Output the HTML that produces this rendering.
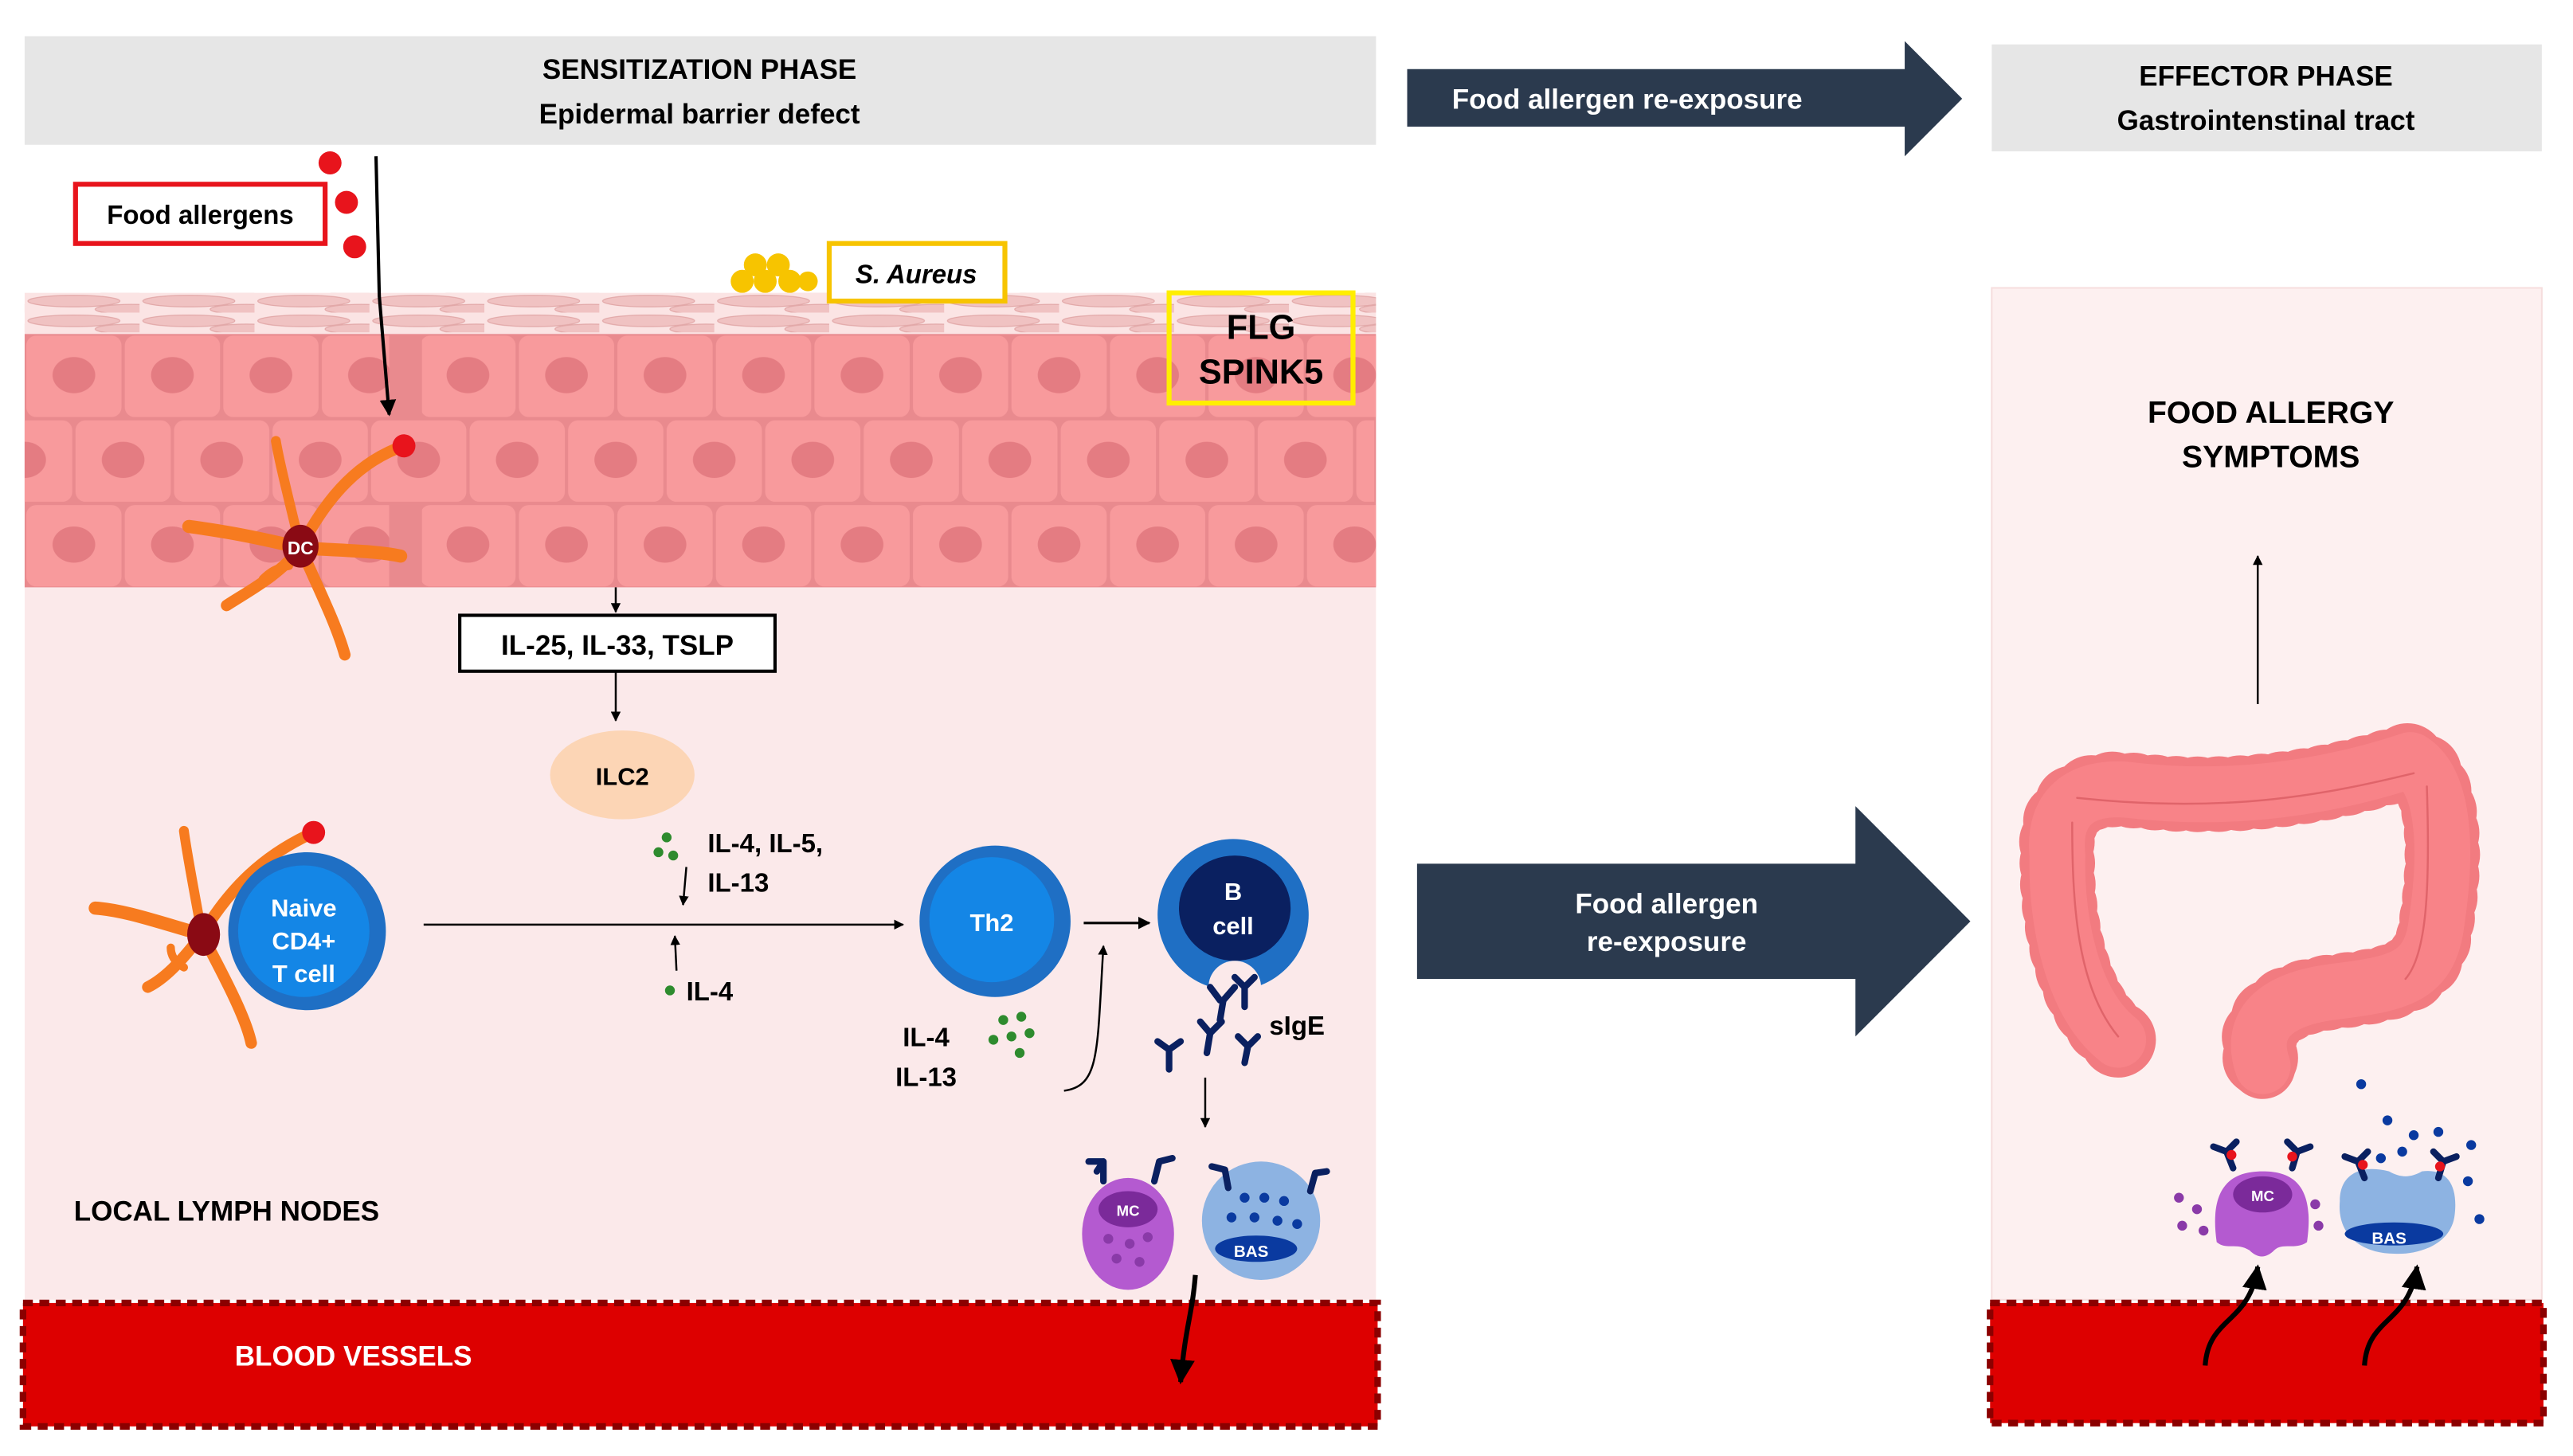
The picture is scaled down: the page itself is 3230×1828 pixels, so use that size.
<!DOCTYPE html>
<html><head><meta charset="utf-8"><style>
html,body{margin:0;padding:0;background:#fff;}
svg{display:block;}
text{font-family:"Liberation Sans",Arial,sans-serif;font-weight:bold;}
</style></head><body>
<svg width="3230" height="1828" viewBox="0 0 1567 885" preserveAspectRatio="none" xmlns="http://www.w3.org/2000/svg">
<defs>
<pattern id="cellA" x="15" y="203" width="60" height="51.5" patternUnits="userSpaceOnUse">
<rect x="1" y="1" width="58" height="49.5" rx="6" fill="#f89a9c"/>
<ellipse cx="30" cy="25" rx="13" ry="11" fill="#e47c82"/>
</pattern>
<pattern id="cellB" x="-15" y="254.5" width="60" height="51.5" patternUnits="userSpaceOnUse">
<rect x="1" y="1" width="58" height="49.5" rx="6" fill="#f89a9c"/>
<ellipse cx="30" cy="25" rx="13" ry="11" fill="#e47c82"/>
</pattern>
<pattern id="cellC" x="15" y="306" width="60" height="51.5" patternUnits="userSpaceOnUse">
<rect x="1" y="1" width="58" height="49.5" rx="6" fill="#f89a9c"/>
<ellipse cx="30" cy="25" rx="13" ry="11" fill="#e47c82"/>
</pattern>
<pattern id="corn" x="15" y="178" width="70" height="12" patternUnits="userSpaceOnUse">
<ellipse cx="30" cy="5" rx="28" ry="3.5" fill="#f0c2c2" stroke="#e2a8a8" stroke-width="0.6"/>
<ellipse cx="65" cy="10" rx="22" ry="3" fill="#f0c2c2" stroke="#e2a8a8" stroke-width="0.6"/>
</pattern>
<marker id="ah" viewBox="0 0 10 10" refX="9" refY="5" markerWidth="5" markerHeight="5" orient="auto"><path d="M0,0L10,5L0,10z" fill="#000"/></marker>
</defs>

<!-- headers -->
<rect x="15" y="22" width="823" height="66" fill="#e6e6e6"/>
<text x="426" y="48" font-size="17" text-anchor="middle">SENSITIZATION PHASE</text>
<text x="426" y="75" font-size="17" text-anchor="middle">Epidermal barrier defect</text>
<polygon points="857,42 1160,42 1160,25 1195,60 1160,95 1160,77 857,77" fill="#2b3a4e"/>
<text x="991" y="66" font-size="17" fill="#fff" text-anchor="middle">Food allergen re-exposure</text>
<rect x="1213" y="27" width="335" height="65" fill="#e6e6e6"/>
<text x="1380" y="52" font-size="17" text-anchor="middle">EFFECTOR PHASE</text>
<text x="1380" y="79" font-size="17" text-anchor="middle">Gastrointenstinal tract</text>

<!-- left panel -->
<rect x="15" y="357" width="823" height="433" fill="#fbe9ea"/>
<rect x="15" y="178" width="823" height="25" fill="#fbe4e4"/>
<rect x="15" y="178" width="823" height="25" fill="url(#corn)"/>
<rect x="15" y="203" width="823" height="154" fill="#e98a8e"/>
<rect x="15" y="203" width="222" height="51.5" fill="url(#cellA)"/>
<rect x="257" y="203" width="581" height="51.5" fill="url(#cellA)"/>
<rect x="15" y="254.5" width="822" height="51.5" fill="url(#cellB)"/>
<rect x="15" y="306" width="222" height="51" fill="url(#cellC)"/>
<rect x="257" y="306" width="581" height="51" fill="url(#cellC)"/>

<!-- food allergens -->
<rect x="46" y="112" width="152" height="36" fill="#fff" stroke="#e8141c" stroke-width="3"/>
<text x="122" y="136" font-size="16" text-anchor="middle">Food allergens</text>
<circle cx="201" cy="99" r="7" fill="#e8141c"/>
<circle cx="211" cy="123" r="7" fill="#e8141c"/>
<circle cx="216" cy="150" r="7" fill="#e8141c"/>
<path d="M229,95 L231,180 L237,252" stroke="#000" stroke-width="2" fill="none" marker-end="url(#ah)"/>

<!-- S aureus -->
<g fill="#f7c400"><circle cx="460" cy="161" r="7"/><circle cx="474" cy="161" r="7"/><circle cx="452" cy="171" r="7"/><circle cx="466" cy="171" r="7"/><circle cx="481" cy="171" r="7"/><circle cx="492" cy="171" r="6"/></g>
<rect x="505" y="148" width="107" height="35" fill="#fff" stroke="#f7c400" stroke-width="3"/>
<text x="558" y="172" font-size="16" font-style="italic" text-anchor="middle">S. Aureus</text>

<!-- FLG -->
<rect x="712" y="178" width="112" height="67" fill="none" stroke="#ffee00" stroke-width="3"/>
<text x="768" y="206" font-size="21" text-anchor="middle">FLG</text>
<text x="768" y="233" font-size="21" text-anchor="middle">SPINK5</text>

<!-- DC in skin -->
<g stroke="#f77b1f" stroke-linecap="round" fill="none">
<path d="M183,333 C200,300 220,280 246,271" stroke-width="7"/>
<path d="M183,333 C175,300 170,280 168,268" stroke-width="6"/>
<path d="M183,333 C150,325 130,322 115,320" stroke-width="8"/>
<path d="M183,333 C215,335 230,335 244,338" stroke-width="8"/>
<path d="M183,333 C170,350 150,360 138,368" stroke-width="7"/>
<path d="M183,333 C195,360 205,380 210,398" stroke-width="7"/>
<path d="M176,344 C168,345 164,348 160,352" stroke-width="5"/>
</g>
<ellipse cx="183" cy="332" rx="11" ry="13" fill="#8a0a14"/>
<text x="183" y="337" font-size="11" fill="#fff" text-anchor="middle">DC</text>
<circle cx="246" cy="271" r="7" fill="#e8141c"/>

<!-- IL-25 -->
<line x1="375" y1="357" x2="375" y2="372" stroke="#000" stroke-width="1.2" marker-end="url(#ah)"/>
<rect x="280" y="374" width="192" height="34" fill="#fff" stroke="#000" stroke-width="2"/>
<text x="376" y="398" font-size="17" text-anchor="middle">IL-25, IL-33, TSLP</text>
<line x1="375" y1="408" x2="375" y2="438" stroke="#000" stroke-width="1.2" marker-end="url(#ah)"/>
<ellipse cx="379" cy="471" rx="44" ry="27" fill="#fcd5b5"/>
<text x="379" y="477" font-size="15" text-anchor="middle">ILC2</text>

<g fill="#2e8b2e"><circle cx="406" cy="509" r="3"/><circle cx="401" cy="518" r="3"/><circle cx="410" cy="520" r="3"/><circle cx="408" cy="602" r="3"/><circle cx="611" cy="620" r="3"/><circle cx="622" cy="618" r="3"/><circle cx="605" cy="632" r="3"/><circle cx="616" cy="630" r="3"/><circle cx="627" cy="628" r="3"/><circle cx="621" cy="640" r="3"/></g>
<text x="431" y="518" font-size="16">IL-4, IL-5,</text>
<text x="431" y="542" font-size="16">IL-13</text>
<path d="M418,527 L416,550" stroke="#000" stroke-width="1.2" fill="none" marker-end="url(#ah)"/>
<path d="M412,590 L411,569" stroke="#000" stroke-width="1.2" fill="none" marker-end="url(#ah)"/>
<text x="418" y="608" font-size="16">IL-4</text>

<!-- DC + naive T -->
<g stroke="#f77b1f" stroke-linecap="round" fill="none">
<path d="M123,568 C140,540 160,520 191,506" stroke-width="7"/>
<path d="M123,568 C118,540 114,520 112,505" stroke-width="6"/>
<path d="M123,568 C95,560 75,553 58,552" stroke-width="8"/>
<path d="M123,568 C140,600 150,620 153,634" stroke-width="7"/>
<path d="M123,568 C110,585 100,595 90,600" stroke-width="7"/>
<path d="M112,588 C106,585 104,580 104,576" stroke-width="5"/>
</g>
<ellipse cx="124" cy="568" rx="10" ry="13" fill="#8a0a14"/>
<circle cx="191" cy="506" r="7" fill="#e8141c"/>
<circle cx="187" cy="566" r="48" fill="#1f6fc4"/>
<circle cx="185" cy="566" r="40" fill="#1486e6"/>
<text x="185" y="557" font-size="15" fill="#fff" text-anchor="middle">Naive</text>
<text x="185" y="577" font-size="15" fill="#fff" text-anchor="middle">CD4+</text>
<text x="185" y="597" font-size="15" fill="#fff" text-anchor="middle">T cell</text>
<line x1="258" y1="562" x2="550" y2="562" stroke="#000" stroke-width="1.2" marker-end="url(#ah)"/>

<!-- Th2 -->
<circle cx="606" cy="560" r="46" fill="#1f6fc4"/>
<circle cx="604" cy="559" r="38" fill="#1486e6"/>
<text x="604" y="566" font-size="15" fill="#fff" text-anchor="middle">Th2</text>
<line x1="660" y1="561" x2="700" y2="561" stroke="#000" stroke-width="1.5" marker-end="url(#ah)"/>
<text x="564" y="636" font-size="16" text-anchor="middle">IL-4</text>
<text x="564" y="660" font-size="16" text-anchor="middle">IL-13</text>
<path d="M648,663 C670,660 668,640 672,575" stroke="#000" stroke-width="1.2" fill="none" marker-end="url(#ah)"/>

<!-- B cell -->
<path d="M751,510 A46,46 0 1,0 751,602 A46,46 0 0,0 751,510z" fill="#1f6fc4"/>
<ellipse cx="752" cy="552" rx="34" ry="32" fill="#0a2060"/>
<circle cx="752" cy="600" r="16" fill="#fbe9ea"/>
<text x="751" y="547" font-size="15" fill="#fff" text-anchor="middle">B</text>
<text x="751" y="568" font-size="15" fill="#fff" text-anchor="middle">cell</text>
<g stroke="#0a2060" stroke-width="4" fill="none" stroke-linecap="round">
<path d="M745,608 L743,620 M743,608 L737,600 M745,608 L752,600"/>
<path d="M758,600 L758,612 M758,600 L752,594 M758,600 L764,594"/>
<path d="M737,628 L735,640 M737,628 L731,621 M737,628 L744,621"/>
<path d="M712,638 L712,650 M712,638 L705,633 M712,638 L719,633"/>
<path d="M760,636 L758,646 M760,636 L754,630 M760,636 L766,630"/>
</g>
<text x="773" y="629" font-size="16">sIgE</text>
<line x1="734" y1="655" x2="734" y2="685" stroke="#000" stroke-width="1.2" marker-end="url(#ah)"/>

<!-- MC / BAS left -->
<ellipse cx="687" cy="750" rx="28" ry="34" fill="#b45ad0"/>
<ellipse cx="687" cy="735" rx="18" ry="11" fill="#7b2a9a"/>
<text x="687" y="739" font-size="9" fill="#fff" text-anchor="middle">MC</text>
<g fill="#8a3aa8"><circle cx="675" cy="753" r="3"/><circle cx="688" cy="756" r="3"/><circle cx="699" cy="752" r="3"/><circle cx="680" cy="765" r="3"/><circle cx="694" cy="767" r="3"/></g>
<circle cx="768" cy="742" r="36" fill="#8db3e2"/>
<ellipse cx="765" cy="759" rx="25" ry="8" fill="#0a3aa0"/>
<text x="762" y="764" font-size="10" fill="#fff" text-anchor="middle">BAS</text>
<g fill="#0a3aa0"><circle cx="758" cy="728" r="3"/><circle cx="770" cy="728" r="3"/><circle cx="782" cy="730" r="3"/><circle cx="750" cy="740" r="3"/><circle cx="764" cy="740" r="3"/><circle cx="778" cy="742" r="3"/><circle cx="790" cy="744" r="3"/></g>
<g stroke="#0a2060" stroke-width="4" fill="none" stroke-linecap="round">
<path d="M672,718 L672,706 M672,706 L663,706 M672,706 L668,712"/>
<path d="M703,718 L706,706 M706,706 L714,704"/>
<path d="M748,722 L746,711 M746,711 L738,709"/>
<path d="M798,724 L801,713 M801,713 L808,712"/>
</g>
<text x="45" y="742" font-size="17">LOCAL LYMPH NODES</text>

<!-- blood vessels left -->
<rect x="14" y="792" width="825" height="75" fill="#dd0000" stroke="#8b0000" stroke-width="4" stroke-dasharray="6,4"/>
<text x="143" y="830" font-size="17" fill="#fff">BLOOD VESSELS</text>
<path d="M728,775 C726,800 722,805 719,840" stroke="#000" stroke-width="3" fill="none" marker-end="url(#ah)"/>

<!-- middle arrow -->
<polygon points="863,525 1130,525 1130,490 1200,560 1130,630 1130,595 863,595" fill="#2b3a4e"/>
<text x="1015" y="555" font-size="17" fill="#fff" text-anchor="middle">Food allergen</text>
<text x="1015" y="578" font-size="17" fill="#fff" text-anchor="middle">re-exposure</text>

<!-- right panel -->
<rect x="1213" y="175" width="335" height="615" fill="#fdf0f0" stroke="#f6dede" stroke-width="1"/>
<text x="1383" y="257" font-size="19" text-anchor="middle">FOOD ALLERGY</text>
<text x="1383" y="284" font-size="19" text-anchor="middle">SYMPTOMS</text>
<line x1="1375" y1="428" x2="1375" y2="338" stroke="#000" stroke-width="1.2" marker-end="url(#ah)"/>

<!-- colon -->
<g fill="none" stroke-linecap="round" stroke-linejoin="round">
<path d="M1290,632 C1262,610 1252,560 1253,520 C1250,490 1268,478 1295,480 C1360,488 1420,478 1468,462 C1490,475 1490,520 1484,560 C1480,595 1460,598 1420,603 C1382,608 1370,625 1378,648" stroke="#f27b80" stroke-width="40"/>
<path d="M1290,632 C1262,610 1252,560 1253,520 C1250,490 1268,478 1295,480 C1360,488 1420,478 1468,462 C1490,475 1490,520 1484,560 C1480,595 1460,598 1420,603 C1382,608 1370,625 1378,648" stroke="#f27b80" stroke-width="46" stroke-dasharray="0 13"/>
<path d="M1290,632 C1262,610 1252,560 1253,520 C1250,490 1268,478 1295,480 C1360,488 1420,478 1468,462 C1490,475 1490,520 1484,560 C1480,595 1460,598 1420,603 C1382,608 1370,625 1378,648" stroke="#f88388" stroke-width="34"/>
<path d="M1290,630 C1265,600 1262,550 1262,500 M1265,485 C1360,495 1420,482 1470,470 M1478,478 C1480,540 1478,580 1465,595" stroke="#e0646a" stroke-width="1.2"/>
</g>

<!-- MC / BAS right -->
<g fill="#8a3aa8"><circle cx="1327" cy="728" r="3"/><circle cx="1338" cy="735" r="3"/><circle cx="1329" cy="745" r="3"/><circle cx="1342" cy="748" r="3"/><circle cx="1410" cy="732" r="3"/><circle cx="1412" cy="745" r="3"/></g>
<path d="M1350,755 C1345,720 1360,712 1378,712 C1396,712 1410,720 1405,755 C1398,760 1390,755 1385,760 C1380,765 1375,765 1370,760 C1362,755 1356,760 1350,755z" fill="#b45ad0"/>
<ellipse cx="1378" cy="726" rx="18" ry="11" fill="#7b2a9a"/>
<text x="1378" y="730" font-size="9" fill="#fff" text-anchor="middle">MC</text>
<path d="M1425,730 C1425,712 1440,708 1455,712 C1462,716 1468,716 1475,712 C1490,710 1497,720 1495,738 C1493,758 1470,763 1458,762 C1440,762 1423,752 1425,730z" fill="#8db3e2"/>
<ellipse cx="1458" cy="750" rx="30" ry="7" fill="#0a3aa0"/>
<text x="1455" y="756" font-size="10" fill="#fff" text-anchor="middle">BAS</text>
<g fill="#0a3aa0"><circle cx="1438" cy="659" r="3"/><circle cx="1454" cy="681" r="3"/><circle cx="1470" cy="690" r="3"/><circle cx="1485" cy="688" r="3"/><circle cx="1463" cy="700" r="3"/><circle cx="1450" cy="704" r="3"/><circle cx="1505" cy="696" r="3"/><circle cx="1503" cy="718" r="3"/><circle cx="1510" cy="741" r="3"/></g>
<g stroke="#0a2060" stroke-width="4" fill="none" stroke-linecap="round">
<path d="M1360,710 L1356,700 M1356,700 L1348,697 M1356,700 L1362,694"/>
<path d="M1396,710 L1399,700 M1399,700 L1407,697 M1399,700 L1393,694"/>
<path d="M1440,716 L1436,706 M1436,706 L1428,703 M1436,706 L1442,700"/>
<path d="M1485,716 L1488,706 M1488,706 L1496,703 M1488,706 L1482,700"/>
</g>
<g fill="#e8141c"><circle cx="1359" cy="702" r="3"/><circle cx="1396" cy="703" r="3"/><circle cx="1439" cy="708" r="3"/><circle cx="1486" cy="709" r="3"/></g>

<!-- blood right -->
<rect x="1212" y="792" width="337" height="73" fill="#dd0000" stroke="#8b0000" stroke-width="4" stroke-dasharray="6,4"/>
<path d="M1343,830 C1345,800 1370,805 1375,770" stroke="#000" stroke-width="3" fill="none" marker-end="url(#ah)"/>
<path d="M1440,830 C1442,800 1467,805 1472,770" stroke="#000" stroke-width="3" fill="none" marker-end="url(#ah)"/>
</svg>
</body></html>
